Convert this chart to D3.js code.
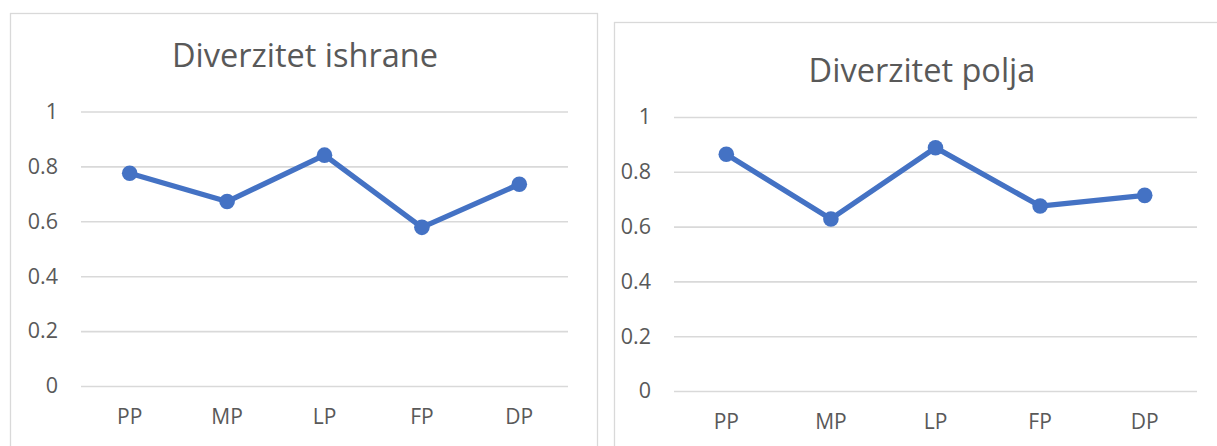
<!DOCTYPE html>
<html>
<head>
<meta charset="utf-8">
<script src="https://cdn.jsdelivr.net/npm/d3@7"></script>
<style>
  html, body { margin: 0; padding: 0; background: #fff; }
  svg { display: block; }
  text { font-family: "Open Sans", "Noto Sans", sans-serif; fill: #595959; }
</style>
</head>
<body>
<svg id="chart" width="1217" height="446"></svg>
<script>
// Categories shared by both charts
const categories = ["PP", "MP", "LP", "FP", "DP"];
// Diversity indices per category
const ishraneValues = [0.775, 0.672, 0.841, 0.578, 0.735];
const poljaValues = [0.864, 0.628, 0.888, 0.675, 0.714];
// Value-axis ticks
const yTicks = [0, 0.2, 0.4, 0.6, 0.8, 1];
const titles = ["Diverzitet ishrane", "Diverzitet polja"];

const svg = d3.select("#chart");
const lineColor = "#4472C4";
const gridColor = "#d9d9d9";

function drawPanel(cfg) {
  const g = svg.append("g");

  // chart frame
  g.append("rect")
    .attr("x", cfg.frame[0]).attr("y", cfg.frame[1])
    .attr("width", cfg.frame[2]).attr("height", cfg.frame[3])
    .attr("fill", "#fff").attr("stroke", gridColor).attr("stroke-width", 1.3);

  const x = d3.scaleBand().domain(categories).range([cfg.plot.left, cfg.plot.right]);
  const y = d3.scaleLinear().domain([0, 1]).range([cfg.plot.bottom, cfg.plot.top]);

  // title
  g.append("text")
    .attr("x", cfg.titleX).attr("y", cfg.titleY)
    .attr("text-anchor", "middle")
    .style("font-size", "32.5px")
    .text(cfg.title);

  // horizontal gridlines + value labels
  const yAxis = d3.axisLeft(y).tickValues(yTicks)
    .tickSize(-(cfg.plot.right - cfg.plot.left))
    .tickPadding(cfg.plot.left - cfg.labelRight)
    .tickFormat(d => d === 0 ? "0" : d === 1 ? "1" : d3.format(".1f")(d));
  const ya = g.append("g")
    .attr("transform", `translate(${cfg.plot.left},0)`)
    .call(yAxis);
  ya.select(".domain").remove();
  ya.selectAll(".tick line").attr("stroke", gridColor).attr("stroke-width", 1.6);
  ya.selectAll(".tick text")
    .style("font-size", "21.5px")
    .attr("fill", null);
  ya.attr("font-family", null).attr("font-size", null);

  // category labels
  const xAxis = d3.axisBottom(x).tickSize(0).tickPadding(cfg.xLabelPad);
  const xa = g.append("g")
    .attr("transform", `translate(0,${cfg.plot.bottom})`)
    .call(xAxis);
  xa.select(".domain").remove();
  xa.selectAll(".tick text")
    .style("font-size", "21px").attr("fill", null);
  xa.attr("font-family", null).attr("font-size", null);

  const cx = d => x(d) + x.bandwidth() / 2;
  const pts = categories.map((c, i) => [cx(c), y(cfg.values[i])]);

  g.append("path")
    .attr("d", d3.line()(pts))
    .attr("fill", "none")
    .attr("stroke", lineColor)
    .attr("stroke-width", 5.3)
    .attr("stroke-linejoin", "round")
    .attr("stroke-linecap", "round");

  g.selectAll("circle.pt").data(pts).join("circle")
    .attr("class", "pt")
    .attr("cx", d => d[0]).attr("cy", d => d[1])
    .attr("r", 7.8)
    .attr("fill", lineColor);
}

drawPanel({
  frame: [10.5, 13.5, 587, 460],
  plot: { left: 81, right: 568, top: 111.5, bottom: 386 },
  labelRight: 58,
  xLabelPad: 23.5,
  title: titles[0], titleX: 305, titleY: 67,
  values: ishraneValues
});

drawPanel({
  frame: [614.5, 22.5, 640, 460],
  plot: { left: 674, right: 1197, top: 117, bottom: 391 },
  labelRight: 651,
  xLabelPad: 23.5,
  title: titles[1], titleX: 922, titleY: 82,
  values: poljaValues
});
</script>
</body>
</html>
